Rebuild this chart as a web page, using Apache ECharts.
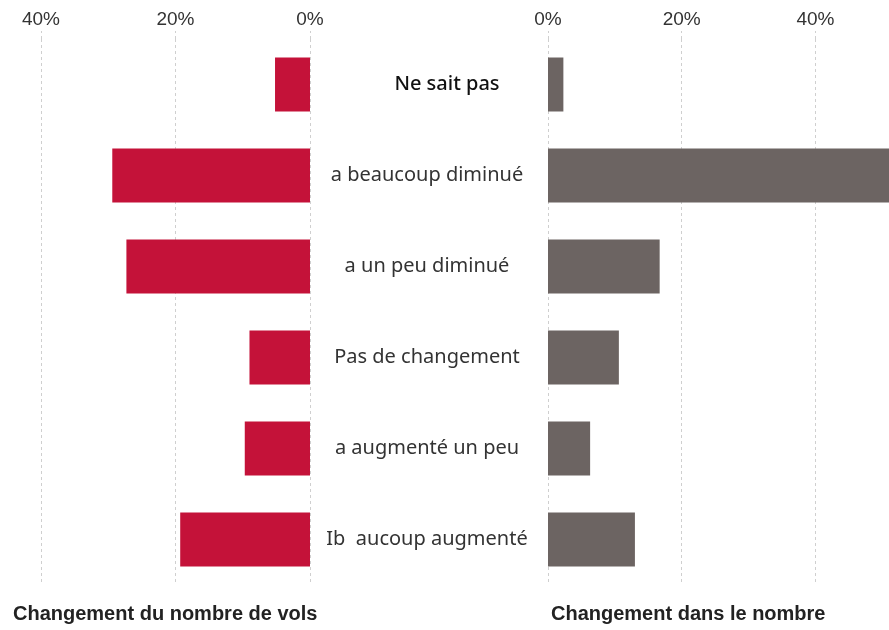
<!DOCTYPE html>
<html>
<head>
<meta charset="utf-8">
<script src="https://cdn.jsdelivr.net/npm/echarts@6/dist/echarts.min.js"></script>
<style>
  html, body { margin: 0; padding: 0; background: #fff; }
  #chart { width: 889px; height: 630px; }
</style>
</head>
<body>
<div id="chart"></div>
<script>
const categories = ['Ne sait pas', 'a beaucoup diminué', 'a un peu diminué', 'Pas de changement', 'a augmenté un peu', 'Ib  aucoup augmenté']
const volsValues = [5.2, 29.4, 27.3, 9.0, 9.7, 19.3]
const nombreValues = [2.3, 56, 16.7, 10.6, 6.3, 13.0]
const leftTitle = 'Changement du nombre de vols'
const rightTitle = 'Changement dans le nombre'

const condensed = '"Liberation Sans Narrow", "Liberation Sans", sans-serif'
const gridLine = { color: '#cfcfcf', type: [3, 3], width: 1 }

const chart = echarts.init(document.getElementById('chart'))

const xAxisBase = {
  type: 'value',
  position: 'top',
  min: 0,
  interval: 20,
  axisLine: { show: false },
  axisTick: { show: true, length: 8, lineStyle: gridLine },
  splitLine: { show: true, lineStyle: gridLine },
  axisLabel: {
    color: '#333',
    fontFamily: condensed,
    fontSize: 19,
    margin: 10,
    showMaxLabel: false,
    formatter: (v) => (v % 20 === 0 ? v + '%' : '')
  }
}

const option = {
  animation: false,
  title: [
    { text: leftTitle, left: 8, top: 599, textStyle: { fontFamily: condensed, fontWeight: 'bold', fontSize: 20, color: '#222' } },
    { text: rightTitle, left: 546, top: 599, textStyle: { fontFamily: condensed, fontWeight: 'bold', fontSize: 20, color: '#222' } }
  ],
  grid: [
    { left: 41, width: 269, top: 39, height: 546 },
    { left: 548, right: 0, top: 39, height: 546 }
  ],
  xAxis: [
    { ...xAxisBase, gridIndex: 0, max: 40, inverse: true, axisLabel: { ...xAxisBase.axisLabel, showMaxLabel: true } },
    { ...xAxisBase, gridIndex: 1, max: 51 }
  ],
  yAxis: [
    {
      type: 'category', gridIndex: 0, inverse: true, data: categories,
      axisLine: { show: false }, axisTick: { show: false }, axisLabel: { show: false }
    },
    {
      type: 'category', gridIndex: 1, inverse: true,
      // "Ne sait pas" sits a little right of the other labels in the original
      data: categories.map((c, i) => i === 0
        ? { value: c, textStyle: { align: 'center', padding: [0, 0, 0, 40], color: '#111', fontWeight: 500 } }
        : c),
      axisLine: { show: false }, axisTick: { show: false },
      axisLabel: {
        align: 'center', margin: 121, color: '#333',
        fontFamily: '"Noto Sans", sans-serif', fontSize: 20
      }
    }
  ],
  series: [
    {
      type: 'bar', xAxisIndex: 0, yAxisIndex: 0, data: volsValues,
      barWidth: 54, itemStyle: { color: '#C41239' }
    },
    {
      type: 'bar', xAxisIndex: 1, yAxisIndex: 1, data: nombreValues,
      barWidth: 54, clip: true, itemStyle: { color: '#6C6462' }
    }
  ]
}

chart.setOption(option)
</script>
</body>
</html>
